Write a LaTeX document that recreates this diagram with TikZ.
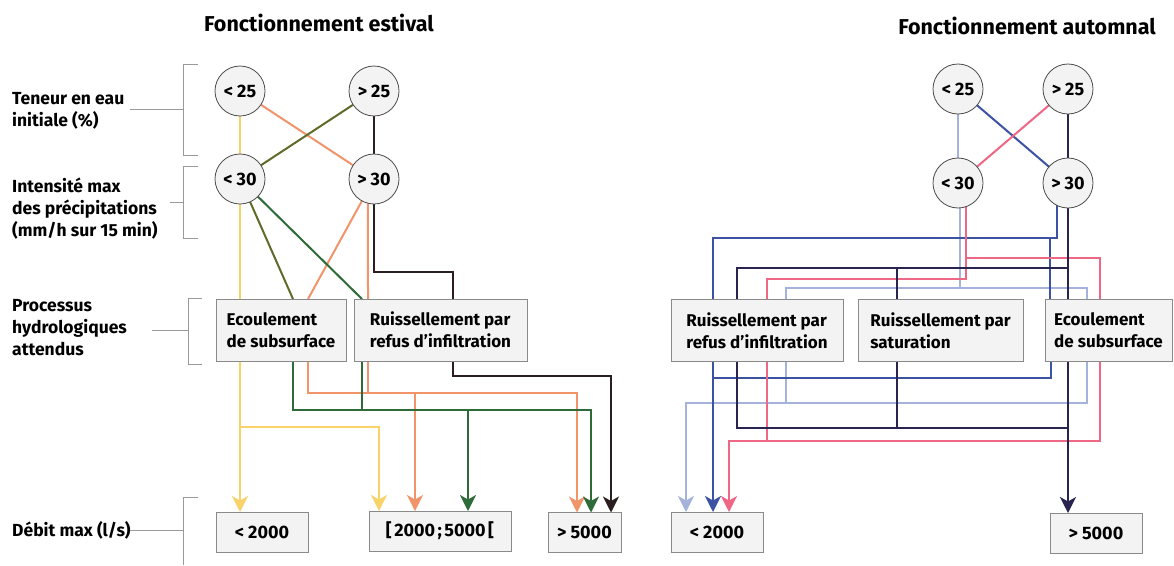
\documentclass[tikz,border=0pt]{standalone}
\usepackage{fontspec}
\setmainfont{Fira Sans}
\usetikzlibrary{arrows.meta,calc}
\pgfdeclarelayer{bg}
\pgfsetlayers{bg,main}
\definecolor{cyel}{HTML}{F8D36A}
\definecolor{corg}{HTML}{F2946A}
\definecolor{coli}{HTML}{5F6B2A}
\definecolor{cgrn}{HTML}{2E6B38}
\definecolor{cblk}{HTML}{2B1E20}
\definecolor{clbl}{HTML}{A5B2DC}
\definecolor{cblu}{HTML}{3C52A2}
\definecolor{cpnk}{HTML}{EE6785}
\definecolor{cnav}{HTML}{28244F}
\definecolor{boxfill}{HTML}{F3F3F3}
\definecolor{boxline}{HTML}{8A8A8A}
\definecolor{brkcol}{HTML}{9A9A9A}
\begin{document}
\begin{tikzpicture}[x=1pt,y=-1pt,
  title/.style={font=\bfseries\fontsize{21.5}{24}\selectfont, inner sep=0pt},
  lbl/.style={anchor=west, align=left, inner sep=0pt, font=\bfseries\fontsize{17.5}{22}\selectfont},
  circ/.style={circle, draw=black!70, fill=boxfill, minimum size=50pt, inner sep=0pt, outer sep=0pt, line width=0.8pt, font=\bfseries\fontsize{18}{18}\selectfont},
  proc/.style={rectangle, draw=boxline, fill=boxfill, minimum height=62pt, align=left, outer sep=0pt, line width=1pt, font=\bfseries\fontsize{17}{22}\selectfont},
  res/.style={rectangle, draw=boxline, fill=boxfill, minimum height=40pt, outer sep=0pt, line width=1pt, font=\bfseries\fontsize{18}{18}\selectfont},
  ln/.style={line width=2pt},
  arr/.style={-{Stealth[length=16pt,width=16pt,inset=4.5pt]}},
  brk/.style={draw=brkcol, line width=0.9pt}]
\begin{pgfonlayer}{bg}
\fill[white] (0,0) rectangle (1174,565);
\end{pgfonlayer}
\useasboundingbox (0,0) rectangle (1174,565);

% titles
\node[title] (tE) at (319,23) {Fonctionnement estival};
\node[title] (tA) at (1027,26) {Fonctionnement automnal};

% row labels
\node[lbl] (lblT) at (12,111) {Teneur en eau\\initiale (\%)};
\node[lbl] (lblI) at (12,208.5) {Intensité max\\des précipitations\\(mm/h sur 15 min)};
\node[lbl] (lblP) at (12,327.5) {Processus\\hydrologiques\\attendus};
\node[lbl] (lblD) at (12,530) {Débit max (l/s)};

% brackets
\coordinate (bT) at (183,64);
\draw[brk] (198,64) -- (bT) -- (183,155) -- (198,155);
\draw[brk] (130,109) -- (183,109);
\draw[brk] (170,202) -- (183,202);
\draw[brk] (198,166) -- (183,166) -- (183,238) -- (198,238);
\draw[brk] (202,298) -- (188,298) -- (188,364) -- (202,364);
\draw[brk] (152,330) -- (188,330);
\draw[brk] (198,497) -- (183,497) -- (183,565);
\draw[brk] (130,530) -- (183,530);

% left circles
\node[circ] (L25a) at (240,91) {<\hspace{4pt}25};
\node[circ] (L25b) at (374,91) {>\hspace{4pt}25};
\node[circ] (L30a) at (240,179) {<\hspace{4pt}30};
\node[circ] (L30b) at (374,179) {>\hspace{4pt}30};

% left boxes
\node[proc, minimum width=130pt] (LEc) at (281,330) {Ecoulement\\de subsurface};
\node[proc, minimum width=173pt] (LRu) at (440.5,330) {Ruissellement par\\refus d’infiltration};
\node[res, minimum width=92pt] (LQ1) at (262,532) {<\hspace{4pt}2000};
\node[res, minimum width=142pt] (LQ2) at (440,531) {[\hspace{2.5pt}2000\hspace{2.5pt};\hspace{2.5pt}5000\hspace{2.5pt}[};
\node[res, minimum width=73pt] (LQ3) at (584.5,532.5) {>\hspace{4pt}5000};

% right circles
\node[circ] (R25a) at (958,89) {<\hspace{4pt}25};
\node[circ] (R25b) at (1068,89) {>\hspace{4pt}25};
\node[circ] (R30a) at (958,183) {<\hspace{4pt}30};
\node[circ] (R30b) at (1068,183) {>\hspace{4pt}30};

% right boxes
\node[proc, minimum width=172pt] (RRu) at (757,330.5) {Ruissellement par\\refus d’infiltration};
\node[proc, minimum width=165pt] (RSa) at (940.5,330.5) {Ruissellement par\\saturation};
\node[proc, minimum width=127pt] (REc) at (1108.5,330.5) {Ecoulement\\de subsurface};
\node[res, minimum width=92pt] (RQ1) at (717,532) {<\hspace{4pt}2000};
\node[res, minimum width=92pt] (RQ3) at (1096,533) {>\hspace{4pt}5000};

\begin{pgfonlayer}{bg}
% ---------- left: yellow
\draw[ln,cyel] (L25a) -- (L30a);
\coordinate (yA) at ($(LQ1.north west)+(24,0)$);
\coordinate (yJ) at (240,427);
\draw[ln,cyel,arr] (L30a) -- (yA);
\draw[ln,cyel,arr] (yJ) -| ($(LQ2.north west)+(10,0)$);
% orange
\draw[ln,corg] (L25a) -- (L30b);
\draw[ln,corg] (L30b) -- ($(LEc.north west)+(92,0)$);
\draw[ln,corg] (L30b.-104) -- ($(LRu.north west)+(14,0)$);
\coordinate (oR) at (577,393);
\draw[ln,corg,arr] ($(LEc.south west)+(92,0)$) |- (oR) -- ($(LQ3.north west)+(29,0)$);
\coordinate (oRu) at ($(LRu.south west)+(14,0)$);
\draw[ln,corg] (oRu) -- (oRu |- oR);
\coordinate (oQ2) at ($(LQ2.north west)+(46,0)$);
\draw[ln,corg,arr] (oQ2 |- oR) -- (oQ2);
% olive
\draw[ln,coli] (L25b) -- (L30a);
\draw[ln,coli] (L30a) -- ($(LEc.north west)+(77,0)$);
% green
\draw[ln,cgrn] (L30a) -- ($(LRu.north west)+(8,0)$);
\coordinate (gR) at (591,410);
\draw[ln,cgrn,arr] ($(LEc.south west)+(77,0)$) |- (gR) -- ($(LQ3.north west)+(43,0)$);
\coordinate (gRu) at ($(LRu.south west)+(8,0)$);
\draw[ln,cgrn] (gRu) -- (gRu |- gR);
\coordinate (gQ2) at ($(LQ2.north west)+(99,0)$);
\draw[ln,cgrn,arr] (gQ2 |- gR) -- (gQ2);
% black
\draw[ln,cblk] (L25b) -- (L30b);
\coordinate (kH) at (453,272);
\draw[ln,cblk] (L30b) |- (kH) -- ($(LRu.north west)+(99,0)$);
\coordinate (kR) at (611,376);
\draw[ln,cblk,arr] ($(LRu.south west)+(99,0)$) |- (kR) -- ($(LQ3.north west)+(63,0)$);

% ---------- right: light blue
\draw[ln,clbl] (R25a) -- (R30a);
\coordinate (lbH) at (1087,288);
\draw[ln,clbl] (R30a.-85) -- (R30a.-85 |- lbH);
\draw[ln,clbl] ($(RRu.north west)+(115,0)$) |- (lbH) -- ($(REc.north west)+(42,0)$);
\coordinate (lbB) at (1087,403);
\draw[ln,clbl,arr] ($(REc.south west)+(42,0)$) -- (lbB) -| ($(RQ1.north west)+(15,0)$);
\coordinate (lbR) at ($(RRu.south west)+(115,0)$);
\draw[ln,clbl] (lbR) -- (lbR |- lbB);
% blue
\draw[ln,cblu] (R25a) -- (R30b);
\coordinate (buH) at (713,238);
\draw[ln,cblu] (R30b.-116) |- (buH) -- ($(RRu.north west)+(42,0)$);
\coordinate (buE) at ($(REc.north west)+(5,0)$);
\draw[ln,cblu] (buE |- buH) -- (buE);
\coordinate (buB) at (713,378);
\draw[ln,cblu] ($(REc.south west)+(6,0)$) |- (buB);
\draw[ln,cblu,arr] ($(RRu.south west)+(42,0)$) -- ($(RQ1.north west)+(42,0)$);
% pink
\draw[ln,cpnk] (R25b) -- (R30a);
\coordinate (pkS) at (R30a.-71);
\coordinate (pkL) at (767,279);
\draw[ln,cpnk] (pkS) |- (pkL) -- ($(RRu.north west)+(96,0)$);
\coordinate (pkR) at (1100,258);
\draw[ln,cpnk] (pkR -| pkS) -- (pkR) -- ($(REc.north west)+(55,0)$);
\coordinate (pkB) at (1100,441);
\draw[ln,cpnk,arr] ($(REc.south west)+(55,0)$) -- (pkB) -| ($(RQ1.north west)+(58,0)$);
\coordinate (pkRu) at ($(RRu.south west)+(96,0)$);
\draw[ln,cpnk] (pkRu) -- (pkRu |- pkB);
% navy
\draw[ln,cnav] (R25b) -- (R30b);
\draw[ln,cnav] (R30b) -- ($(REc.north west)+(23,0)$);
\coordinate (nvH) at (1068,268);
\draw[ln,cnav] ($(RRu.north west)+(66,0)$) |- (nvH);
\coordinate (nvS) at ($(RSa.north west)+(39,0)$);
\draw[ln,cnav] (nvS) -- (nvS |- nvH);
\coordinate (nvB) at (1068,428);
\draw[ln,cnav] ($(RRu.south west)+(66,0)$) |- (nvB);
\coordinate (nvT) at ($(RSa.south west)+(39,0)$);
\draw[ln,cnav] (nvT) -- (nvT |- nvB);
\draw[ln,cnav,arr] ($(REc.south west)+(23,0)$) -- ($(RQ3.north west)+(18,0)$);
\end{pgfonlayer}
\end{tikzpicture}
\end{document}
